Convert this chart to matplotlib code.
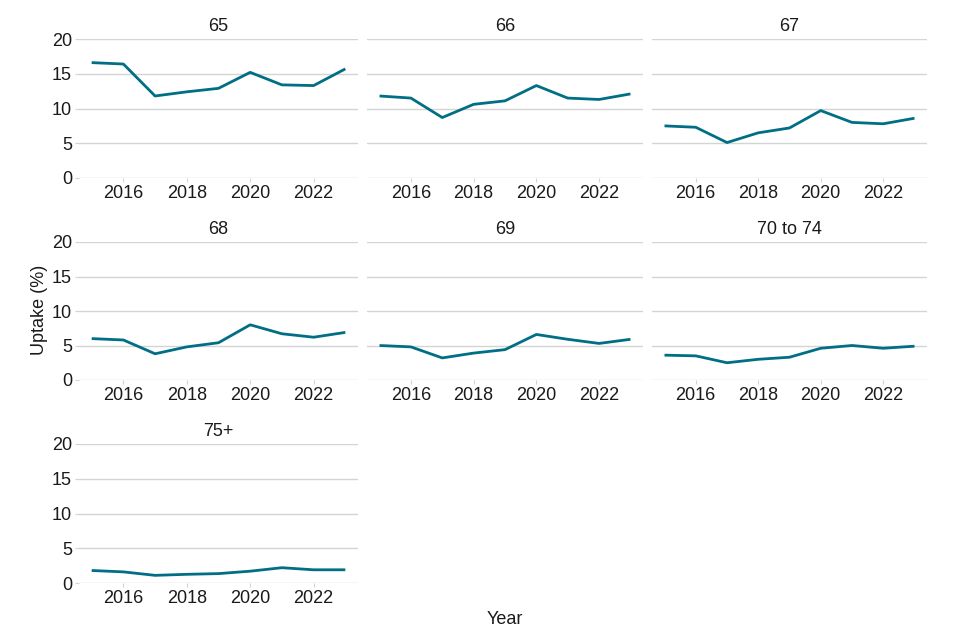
import matplotlib
matplotlib.use("Agg")
import matplotlib.pyplot as plt

plt.rcParams['font.family'] = ['Liberation Sans', 'DejaVu Sans']

years = [2015, 2016, 2017, 2018, 2019, 2020, 2021, 2022, 2023]
panels = ["65", "66", "67", "68", "69", "70 to 74", "75+"]
uptake_65 = [16.6, 16.4, 11.8, 12.4, 12.9, 15.2, 13.4, 13.3, 15.7]
uptake_66 = [11.8, 11.5, 8.7, 10.6, 11.1, 13.3, 11.5, 11.3, 12.1]
uptake_67 = [7.5, 7.3, 5.1, 6.5, 7.2, 9.7, 8.0, 7.8, 8.6]
uptake_68 = [6.0, 5.8, 3.8, 4.8, 5.4, 8.0, 6.7, 6.2, 6.9]
uptake_69 = [5.0, 4.8, 3.2, 3.9, 4.4, 6.6, 5.9, 5.3, 5.9]
uptake_70_74 = [3.6, 3.5, 2.5, 3.0, 3.3, 4.6, 5.0, 4.6, 4.9]
uptake_75p = [1.8, 1.6, 1.1, 1.25, 1.35, 1.7, 2.2, 1.9, 1.9]
series = [uptake_65, uptake_66, uptake_67, uptake_68, uptake_69, uptake_70_74, uptake_75p]

xticks = [2016, 2018, 2020, 2022]
yticks = [0, 5, 10, 15, 20]

W, H = 960, 640
fig = plt.figure(figsize=(9.6, 6.4), dpi=100)

cols_x = [(79, 358), (367, 643), (652, 927)]
rows_y = [(39, 178), (242, 380), (444, 583)]

color = '#006e85'
grid_c = '#d4d4d4'

for i, (name, vals) in enumerate(zip(panels, series)):
    r, c = divmod(i, 3)
    x0, x1 = cols_x[c]
    y0, y1 = rows_y[r]
    ax = fig.add_axes([x0 / W, 1 - y1 / H, (x1 - x0) / W, (y1 - y0) / H])
    ax.plot(years, vals, color=color, linewidth=2.0, solid_capstyle='butt')
    ax.set_xlim(2014.6, 2023.4)
    ax.set_ylim(0, 20)
    ax.set_yticks(yticks)
    ax.set_xticks(xticks)
    for y in yticks:
        ax.axhline(y, color=grid_c, linewidth=1.0, zorder=0)
    for s in ax.spines.values():
        s.set_visible(False)
    ax.tick_params(axis='x', length=3, color=grid_c, labelsize=13, pad=2, labelcolor='#1a1a1a')
    ax.tick_params(axis='y', length=3, color=grid_c, labelsize=13, pad=2, labelcolor='#1a1a1a')
    if c != 0:
        ax.tick_params(axis='y', labelleft=False, length=0)
    ax.set_title(name, fontsize=13, pad=6, color='#1a1a1a')
    ax.set_facecolor('none')

fig.text(40 / W, 1 - 310 / H, "Uptake (%)", rotation=90, ha='center', va='center', fontsize=13, color='#1a1a1a')
fig.text(505 / W, 1 - 619 / H, "Year", ha='center', va='center', fontsize=13, color='#1a1a1a')

fig.savefig("out.png", dpi=100)
